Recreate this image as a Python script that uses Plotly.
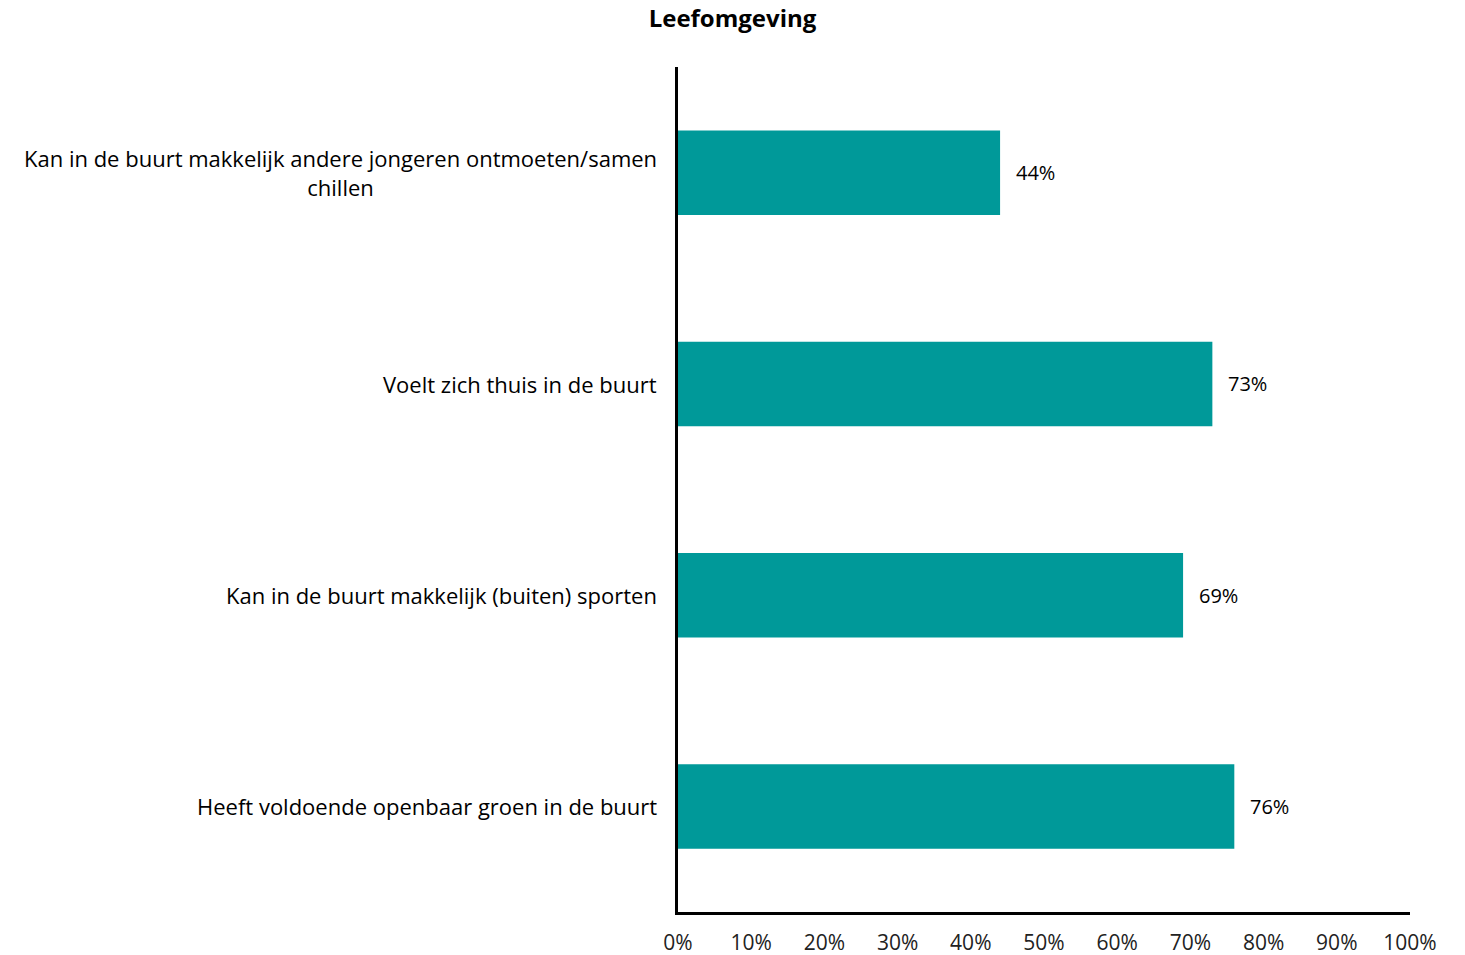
from plotly import graph_objects as go

categories = [
    "Kan in de buurt makkelijk andere jongeren ontmoeten/samen<br>chillen",
    "Voelt zich thuis in de buurt",
    "Kan in de buurt makkelijk (buiten) sporten",
    "Heeft voldoende openbaar groen in de buurt",
]
values = [0.44, 0.73, 0.69, 0.76]
value_labels = ["44%", "73%", "69%", "76%"]
tick_values = [0, 0.1, 0.2, 0.3, 0.4, 0.5, 0.6, 0.7, 0.8, 0.9, 1.0]
tick_labels = ["0%", "10%", "20%", "30%", "40%", "50%", "60%", "70%", "80%", "90%", "100%"]

font_family = "'Open Sans', Lato, sans-serif"

fig = go.Figure()
fig.add_trace(
    go.Bar(
        x=values,
        y=categories,
        orientation="h",
        width=0.4,
        marker=dict(color="#009999", line=dict(width=0)),
        hoverinfo="skip",
    )
)

# category labels as annotations so the wrapped line stays centred
for cat in categories:
    fig.add_annotation(
        x=0, y=cat, xref="paper", yref="y",
        text=cat, showarrow=False,
        xanchor="right", align="center",
        xshift=-19,
        font=dict(family=font_family, size=22, color="black"),
    )

# value labels right of each bar
for cat, val, lab in zip(categories, values, value_labels):
    fig.add_annotation(
        x=val, y=cat, xref="x", yref="y",
        text=lab, showarrow=False,
        xanchor="left", xshift=14,
        font=dict(family=font_family, size=20, color="black"),
    )

fig.update_layout(
    width=1465,
    height=955,
    plot_bgcolor="white",
    paper_bgcolor="white",
    showlegend=False,
    margin=dict(l=678, r=55, t=67, b=43, autoexpand=False),
    font=dict(family=font_family, size=20, color="black"),
    title=dict(
        text="<b>Leefomgeving</b>",
        x=0.5, xref="container", xanchor="center",
        y=0.981, yref="container", yanchor="middle",
        font=dict(family=font_family, size=24, color="black"),
    ),
)

fig.update_xaxes(
    range=[0, 1],
    tickvals=tick_values,
    ticktext=tick_labels,
    showgrid=False,
    zeroline=False,
    showline=True,
    linecolor="black",
    linewidth=2.5,
    ticks="",
    automargin=False,
    tickfont=dict(family=font_family, size=21, color="#222222"),
    ticklabelstandoff=10,
)
fig.update_yaxes(
    range=[3.5, -0.5],
    showticklabels=False,
    showgrid=False,
    zeroline=False,
    showline=True,
    linecolor="black",
    linewidth=2.5,
    ticks="",
    automargin=False,
)

# drop the default body margin so the figure fills the window exactly
fig.write_html(
    "out.html",
    config={"displayModeBar": False},
    post_script="document.body.style.margin = '0';",
)
